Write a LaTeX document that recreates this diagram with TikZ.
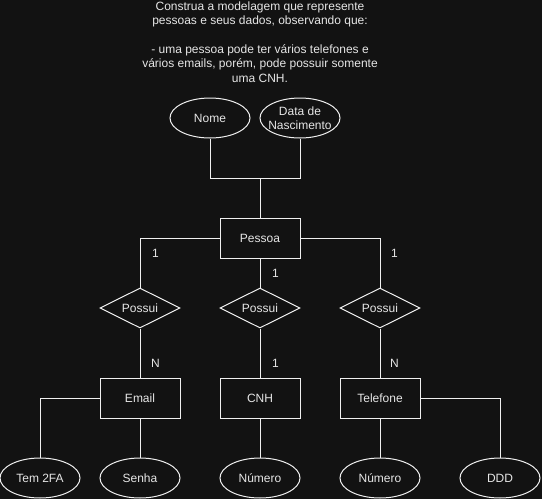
\documentclass[tikz,border=0pt]{standalone}
\usepackage{fontspec}
\setmainfont{Liberation Sans}
\usetikzlibrary{shapes.geometric}
\definecolor{bgdark}{HTML}{121212}
\definecolor{ink}{HTML}{F0F0F0}
\definecolor{label}{HTML}{E6E6E6}
\tikzset{
  base/.style={draw=ink, line width=1pt, fill=bgdark, text=label, inner sep=0pt,
    font=\fontsize{12pt}{14.4pt}\selectfont},
  entity/.style={base, rectangle, minimum width=80pt, minimum height=40pt},
  attrib/.style={base, ellipse, minimum width=80pt, minimum height=40pt, align=center},
  relation/.style={base, diamond, aspect=2, minimum width=80pt, minimum height=40pt},
  card/.style={text=label, inner sep=0pt, font=\fontsize{12pt}{14.4pt}\selectfont},
  link/.style={draw=ink, line width=1pt},
}
\begin{document}
\begin{tikzpicture}[x=1pt, y=-1pt]
  \fill[bgdark] (0,0) rectangle (542,499);
  \useasboundingbox (0,0) rectangle (542,499);

  % statement of the exercise
  \node[card, align=center, anchor=north] (enunciado) at (260,1.5)
    {Construa a modelagem que represente\\
     pessoas e seus dados, observando que:\\
     \mbox{}\\
     - uma pessoa pode ter vários telefones e\\
     vários emails, porém, pode possuir somente\\
     uma CNH.};

  % main entity and its attributes
  \node[attrib] (nome) at (210,118) {Nome};
  % the long label may run past the ellipse outline
  \node[attrib, inner xsep=-6pt, inner ysep=-6pt] (nasc) at (300,118) {Data de\\Nascimento};
  \node[entity] (pessoa) at (260,238) {Pessoa};

  % relationships
  \node[relation] (possEmail) at (140,308) {Possui};
  \node[relation] (possCnh)   at (260,308) {Possui};
  \node[relation] (possTel)   at (380,308) {Possui};

  % related entities
  \node[entity] (email) at (140,398) {Email};
  \node[entity] (cnh)   at (260,398) {CNH};
  \node[entity] (tel)   at (380,398) {Telefone};

  % attributes of the related entities
  \node[attrib] (tem2fa)  at (40,478)  {Tem 2FA};
  \node[attrib] (senha)   at (140,478) {Senha};
  \node[attrib] (numCnh)  at (260,478) {Número};
  \node[attrib] (numTel)  at (380,478) {Número};
  \node[attrib] (ddd)     at (500,478) {DDD};

  % connectors
  \draw[link] (nome.south) -- ++(0,40) -| (pessoa.north);
  \draw[link] (nasc.south) -- ++(0,40) -| (pessoa.north);
  \draw[link] (pessoa.west) -| (possEmail.north);
  \draw[link] (pessoa.south) -- (possCnh.north);
  \draw[link] (pessoa.east) -| (possTel.north);
  \draw[link] (possEmail.south) -- (email.north);
  \draw[link] (possCnh.south) -- (cnh.north);
  \draw[link] (possTel.south) -- (tel.north);
  \draw[link] (email.west) -| (tem2fa.north);
  \draw[link] (email.south) -- (senha.north);
  \draw[link] (cnh.south) -- (numCnh.north);
  \draw[link] (tel.south) -- (numTel.north);
  \draw[link] (tel.east) -| (ddd.north);

  % cardinalities
  \node[card] (cardE1) at (155.5,253) {1};
  \node[card] (cardC1) at (275.5,273) {1};
  \node[card] (cardT1) at (394.5,253) {1};
  \node[card] (cardEN) at (155.5,363) {N};
  \node[card] (cardCN) at (275.5,363) {1};
  \node[card] (cardTN) at (394.5,363) {N};
\end{tikzpicture}
\end{document}
